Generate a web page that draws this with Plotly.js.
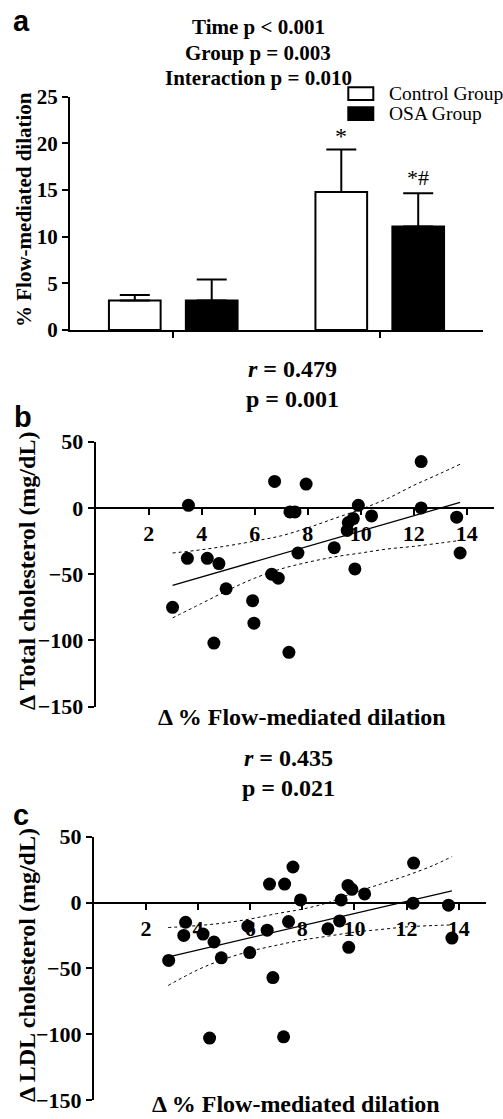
<!DOCTYPE html>
<html>
<head>
<meta charset="utf-8">
<script src="https://cdn.plot.ly/plotly-3.0.1.min.js"></script>
<style>html,body{margin:0;padding:0;background:#fff;}#chart{width:503px;height:1119px;}</style>
</head>
<body>
<div id="chart"></div>
<script>
// ---------- Panel a: % FMD by time and group ----------
const timePoints = ['Baseline', 'Follow-up'];
const controlMean = [3.15, 14.8];
const controlErrUp = [0.6, 4.55];
const osaMean = [3.15, 11.1];
const osaErrUp = [2.25, 3.55];
const noErrDown = [0, 0];
const yTicksA = [0, 5, 10, 15, 20, 25];

// ---------- Panel b: Δ FMD vs Δ total cholesterol ----------
const bFmd = [3.5, 6.75, 7.33, 7.52, 3.46, 4.21, 4.65, 7.63, 6.64, 6.89, 4.92, 2.9, 5.92, 5.97, 4.46, 7.29,
              7.94, 12.28, 12.28, 9.91, 10.41, 9.72, 9.53, 9.49, 13.62, 13.75, 9.0, 9.78];
const bChol = [2, 20, -3, -3, -38, -38, -42, -34, -50, -53, -61, -75, -70, -87, -102, -109,
               18, 35, 0, 2, -6, -8, -11, -17, -7, -34, -30, -46];
const bFitX = [2.9, 13.75];
const bFitY = [-58.4, 4.2];
const bBandX = [2.9, 4, 5, 6, 7, 8, 9, 10, 11, 12, 13, 13.75];
const bBandUpper = [-34, -31.5, -28.5, -25, -21, -15, -8, -1, 7, 17, 26, 33];
const bBandLower = [-83, -72, -62, -53, -46, -41, -37, -34, -31, -29, -26.5, -24.5];

// ---------- Panel c: Δ FMD vs Δ LDL cholesterol ----------
const cFmd = [3.52, 3.45, 4.19, 4.61, 2.87, 4.89, 5.91, 5.98, 6.65, 6.74, 7.32, 7.64, 7.47, 6.87, 4.44, 7.28,
              7.93, 9.49, 9.75, 9.9, 10.39, 12.27, 12.25, 13.61, 13.74, 9.43, 8.98, 9.78];
const cLdl = [-15, -25, -24, -30, -44, -42, -18, -38, -21, 14, 14, 27, -14.5, -57, -103, -102,
              2, 2, 13, 10, 6.5, 30, -0.5, -2, -27, -14, -20, -34];
const cFitX = [2.87, 13.74];
const cFitY = [-41.2, 8.9];
const cBandX = [2.85, 4, 5, 6, 7, 8, 9, 10, 11, 12, 13, 13.75];
const cBandUpper = [-19, -17.5, -15.5, -12.5, -8.5, -5, 0, 7.5, 14, 20.5, 28, 35];
const cBandLower = [-63, -51, -43, -37, -32.5, -28.5, -25.5, -22.5, -20.5, -18.5, -17.5, -17];

const xTicksBC = [2, 4, 6, 8, 10, 12, 14];
const yTicksBC = [-150, -100, -50, 0, 50];

const serif = '"Liberation Serif", "Times New Roman", serif';
const sans = '"Liberation Sans", Arial, sans-serif';
const W = 503, H = 1119;
const px = v => v / W;
const py = v => 1 - v / H;

const traces = [
  {type: 'bar', name: 'Control Group', x: timePoints, y: controlMean, xaxis: 'x', yaxis: 'y',
   marker: {color: '#ffffff', line: {color: '#000', width: 2}},
   error_y: {type: 'data', symmetric: false, array: controlErrUp, arrayminus: noErrDown,
             color: '#000', thickness: 2, width: 15},
   showlegend: false, hoverinfo: 'y'},
  {type: 'bar', name: 'OSA Group', x: timePoints, y: osaMean, xaxis: 'x', yaxis: 'y',
   marker: {color: '#000000', line: {color: '#000', width: 2}},
   error_y: {type: 'data', symmetric: false, array: osaErrUp, arrayminus: noErrDown,
             color: '#000', thickness: 2, width: 15},
   showlegend: false, hoverinfo: 'y'},

  {type: 'scatter', mode: 'lines', x: bBandX, y: bBandUpper, xaxis: 'x2', yaxis: 'y2',
   line: {color: '#000', width: 1, dash: 'dot', shape: 'spline'}, showlegend: false, hoverinfo: 'skip'},
  {type: 'scatter', mode: 'lines', x: bBandX, y: bBandLower, xaxis: 'x2', yaxis: 'y2',
   line: {color: '#000', width: 1, dash: 'dot', shape: 'spline'}, showlegend: false, hoverinfo: 'skip'},
  {type: 'scatter', mode: 'lines', x: bFitX, y: bFitY, xaxis: 'x2', yaxis: 'y2',
   line: {color: '#000', width: 1.3}, showlegend: false, hoverinfo: 'skip'},
  {type: 'scatter', mode: 'markers', x: bFmd, y: bChol, xaxis: 'x2', yaxis: 'y2',
   marker: {color: '#000', size: 13}, showlegend: false},

  {type: 'scatter', mode: 'lines', x: cBandX, y: cBandUpper, xaxis: 'x3', yaxis: 'y3',
   line: {color: '#000', width: 1, dash: 'dot', shape: 'spline'}, showlegend: false, hoverinfo: 'skip'},
  {type: 'scatter', mode: 'lines', x: cBandX, y: cBandLower, xaxis: 'x3', yaxis: 'y3',
   line: {color: '#000', width: 1, dash: 'dot', shape: 'spline'}, showlegend: false, hoverinfo: 'skip'},
  {type: 'scatter', mode: 'lines', x: cFitX, y: cFitY, xaxis: 'x3', yaxis: 'y3',
   line: {color: '#000', width: 1.3}, showlegend: false, hoverinfo: 'skip'},
  {type: 'scatter', mode: 'markers', x: cFmd, y: cLdl, xaxis: 'x3', yaxis: 'y3',
   marker: {color: '#000', size: 13}, showlegend: false}
];

const axisCommon = {
  showline: true, linecolor: '#000', linewidth: 2, mirror: false,
  ticks: 'outside', ticklen: 6, tickwidth: 2, tickcolor: '#000',
  showgrid: false, zeroline: false, automargin: false, fixedrange: true
};

const tickFontA = {family: serif, size: 21, color: '#000', weight: 'bold'};
const tickFontBC = {family: serif, size: 22, color: '#000', weight: 'bold'};
const titleFontA = {family: serif, size: 21, color: '#000', weight: 'bold'};
const titleFontBC = {family: serif, size: 24, color: '#000', weight: 'bold'};

const layout = {
  width: W, height: H, autosize: false,
  font: {family: serif, color: '#000'},
  margin: {l: 0, r: 0, t: 0, b: 0, pad: 0},
  paper_bgcolor: '#fff', plot_bgcolor: 'rgba(0,0,0,0)',
  showlegend: false,
  barmode: 'group', bargap: 0.255, bargroupgap: 0.328,
  xaxis: Object.assign({}, axisCommon, {
    domain: [px(70), px(483)], anchor: 'y', type: 'category', range: [-0.5, 1.5],
    showticklabels: false
  }),
  yaxis: Object.assign({}, axisCommon, {
    domain: [py(330), py(96.7)], anchor: 'x', range: [0, 25], tickvals: yTicksA,
    tickfont: tickFontA
  }),
  xaxis2: Object.assign({}, axisCommon, {
    domain: [px(95.7), px(494.3)], anchor: 'free', position: py(508), range: [0, 15.04],
    tickvals: xTicksBC, tickfont: tickFontBC
  }),
  yaxis2: Object.assign({}, axisCommon, {
    domain: [py(706.7), py(441.7)], anchor: 'x2', range: [-150, 50], tickvals: yTicksBC,
    tickfont: tickFontBC
  }),
  xaxis3: Object.assign({}, axisCommon, {
    domain: [px(93.9), px(486.3)], anchor: 'free', position: py(902.5), range: [0, 15.06],
    tickvals: xTicksBC, tickfont: tickFontBC
  }),
  yaxis3: Object.assign({}, axisCommon, {
    domain: [py(1100), py(836.7)], anchor: 'x3', range: [-150, 50], tickvals: yTicksBC,
    tickfont: tickFontBC
  }),
  shapes: [
    {type: 'rect', xref: 'paper', yref: 'paper', x0: px(348.3), x1: px(373.3), y0: py(100), y1: py(87.3),
     fillcolor: '#fff', line: {color: '#000', width: 2}},
    {type: 'rect', xref: 'paper', yref: 'paper', x0: px(348.3), x1: px(373.3), y0: py(120), y1: py(107.3),
     fillcolor: '#000', line: {color: '#000', width: 2}}
  ],
  annotations: [
    {text: 'a', x: px(21), y: py(21), font: {family: sans, size: 29, color: '#000', weight: 'bold'}},
    {text: 'b', x: px(23), y: py(417), font: {family: sans, size: 29, color: '#000', weight: 'bold'}},
    {text: 'c', x: px(21), y: py(815), font: {family: sans, size: 29, color: '#000', weight: 'bold'}},

    {text: 'Time p &lt; 0.001', x: px(258), y: py(27.5), font: titleFontA},
    {text: 'Group p = 0.003', x: px(258), y: py(52.5), font: titleFontA},
    {text: 'Interaction p = 0.010', x: px(258), y: py(78), font: titleFontA},

    {text: 'Control Group', x: px(386.7), y: py(93.5), xanchor: 'left',
     font: {family: serif, size: 19.5, color: '#000'}},
    {text: 'OSA Group', x: px(386.7), y: py(113.7), xanchor: 'left',
     font: {family: serif, size: 19.5, color: '#000'}},

    {text: '*', xref: 'x', yref: 'y', x: 0.814, y: 20.8, font: {family: serif, size: 24, color: '#000'}},
    {text: '*#', xref: 'x', yref: 'y', x: 1.186, y: 16.3, font: {family: serif, size: 22, color: '#000'}},

    // y-axis titles
    {text: '% Flow-mediated dilation', x: px(24), y: py(210), textangle: -90, font: titleFontA},
    {text: 'Δ Total cholesterol (mg/dL)', x: px(27), y: py(571), textangle: -90, font: titleFontBC},
    {text: 'Δ LDL cholesterol (mg/dL)', x: px(27), y: py(965), textangle: -90, font: titleFontBC},

    {text: '<i>r</i> = 0.479', x: px(292), y: py(369), font: titleFontBC},
    {text: 'p = 0.001', x: px(292), y: py(399), font: titleFontBC},
    {text: 'Δ % Flow-mediated dilation', x: px(301.7), y: py(717), font: titleFontBC},

    {text: '<i>r</i> = 0.435', x: px(288), y: py(758), font: titleFontBC},
    {text: 'p = 0.021', x: px(288), y: py(788), font: titleFontBC},
    {text: 'Δ % Flow-mediated dilation', x: px(296), y: 0, yanchor: 'bottom', font: titleFontBC}
  ].map(a => Object.assign({xref: 'paper', yref: 'paper', showarrow: false, xanchor: 'center', yanchor: 'middle'}, a))
};

Plotly.newPlot('chart', traces, layout, {staticPlot: true, displayModeBar: false});
</script>
</body>
</html>
